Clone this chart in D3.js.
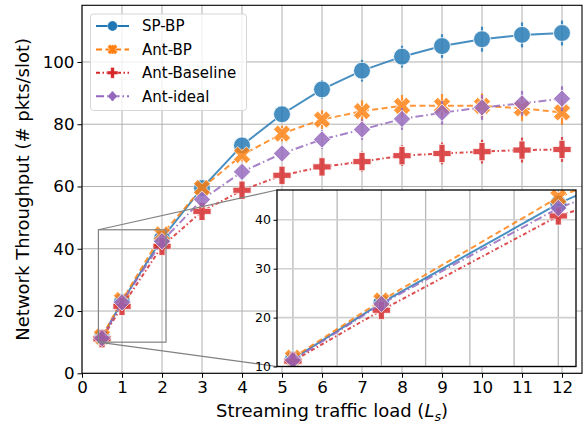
<!DOCTYPE html>
<html lang="en">
<head>
<meta charset="UTF-8">
<title>Throughput vs streaming load</title>
<script src="https://d3js.org/d3.v7.min.js"></script>
<style>
  body { margin: 0; background: #fff; }
  text { font-family: "DejaVu Sans", sans-serif; }
</style>
</head>
<body>
<script>
// data
const loads = [0.5, 1, 2, 3, 4, 5, 6, 7, 8, 9, 10, 11, 12];
const spBP = [11.5, 23, 43.3, 59.5, 73.2, 83.2, 91.2, 97.2, 101.7, 105.1, 107.3, 108.7, 109.3];
const antBP = [11.8, 23.5, 44.6, 59.5, 70.1, 77, 81.5, 84.2, 85.9, 85.9, 85.9, 85.1, 83.8];
const antBase = [11.1, 21.5, 40.8, 52, 58.8, 63.6, 66.3, 68, 69.9, 70.6, 71.2, 71.7, 71.9];
const antIdeal = [11.3, 22.8, 42.4, 55.8, 64.7, 70.6, 75.1, 78.3, 81.7, 83.7, 85.4, 86.7, 88.2];
const spErr = [0.5, 0.8, 1, 1.5, 2, 2.5, 3, 3.5, 3.5, 3.8, 4, 4, 4];
const antBPErr = [0.5, 0.8, 1, 1.5, 2, 2.5, 3, 3.5, 3.5, 3.8, 4, 4, 4];
const antBaseErr = [0.5, 0.8, 1, 1.5, 2, 2.5, 3, 3.2, 3.3, 3.5, 3.8, 4, 4];
const antIdealErr = [0.5, 0.8, 1, 1.5, 2, 2.5, 3, 3.3, 3.5, 3.8, 4, 4, 4];
const seriesNames = ["SP-BP", "Ant-BP", "Ant-Baseline", "Ant-ideal"];
const xTicks = [0, 1, 2, 3, 4, 5, 6, 7, 8, 9, 10, 11, 12];
const yTicks = [0, 20, 40, 60, 80, 100];
const insetXTicks = [0.5, 0.75, 1, 1.25, 1.5, 1.75, 2];
const insetYTicks = [10, 20, 30, 40];

const series = [
  { name: seriesNames[0], vals: spBP, err: spErr, color: "#1f77b4", dash: null, marker: "circle" },
  { name: seriesNames[1], vals: antBP, err: antBPErr, color: "#ff7f0e", dash: "6,3.5", marker: "x" },
  { name: seriesNames[2], vals: antBase, err: antBaseErr, color: "#d62728", dash: "4,2.5,1.5,2.5", marker: "plus" },
  { name: seriesNames[3], vals: antIdeal, err: antIdealErr, color: "#9467bd", dash: "8,3,1.5,3", marker: "diamond" }
];

const width = 585, height = 429;
const svg = d3.select("body").append("svg")
  .attr("width", width).attr("height", height);
svg.append("rect").attr("width", width).attr("height", height).attr("fill", "#fff");

// main axes
const L = 82, R = 582, T = 5.3, B = 373.3;
const x = d3.scaleLinear().domain([0, 12.5]).range([L, R]);
const y = d3.scaleLinear().domain([0, 118.2]).range([B, T]);

// inset axes
const iL = 277, iR = 576, iT = 190, iB = 366.5;
const ix = d3.scaleLinear().domain([0.41, 2.1]).range([iL, iR]);
const iy = d3.scaleLinear().domain([10, 46.1]).range([iB, iT]);

const defs = svg.append("defs");
defs.append("clipPath").attr("id", "clipMain")
  .append("rect").attr("x", L).attr("y", T).attr("width", R - L).attr("height", B - T);
defs.append("clipPath").attr("id", "clipInset")
  .append("rect").attr("x", iL).attr("y", iT).attr("width", iR - iL).attr("height", iB - iT);

function markerPath(kind, size) {
  if (kind === "circle") return d3.symbol(d3.symbolCircle, size)();
  if (kind === "diamond") return d3.symbol(d3.symbolSquare, size)();
  return d3.symbol(d3.symbolCross, size)();
}
function markerRot(kind) {
  return (kind === "x" || kind === "diamond") ? 45 : 0;
}

const msize = { circle: 225, x: 185, plus: 185, diamond: 150 };

function drawPanel(g, sx, sy, clipId) {
  const plot = g.append("g").attr("clip-path", `url(#${clipId})`);
  series.forEach(s => {
    const pts = loads.map((l, i) => ({ x: l, y: s.vals[i], e: s.err[i] }));
    const sg = plot.append("g").attr("opacity", 0.82);
    sg.append("path")
      .datum(pts)
      .attr("d", d3.line().x(d => sx(d.x)).y(d => sy(d.y)))
      .attr("fill", "none")
      .attr("stroke", s.color)
      .attr("stroke-width", 2)
      .attr("stroke-dasharray", s.dash);
    sg.selectAll(".eb").data(pts).enter().append("line")
      .attr("x1", d => sx(d.x)).attr("x2", d => sx(d.x))
      .attr("y1", d => sy(d.y - d.e)).attr("y2", d => sy(d.y + d.e))
      .attr("stroke", s.color).attr("stroke-width", 2.2);
    sg.selectAll(".mk").data(pts).enter().append("path")
      .attr("d", markerPath(s.marker, msize[s.marker]))
      .attr("transform", d => `translate(${sx(d.x)},${sy(d.y)}) rotate(${markerRot(s.marker)})`)
      .attr("fill", s.color)
      .attr("stroke", "#fff")
      .attr("stroke-width", 0.8);
  });
}

// main grid
const main = svg.append("g");
main.append("g").selectAll("line").data(xTicks).enter().append("line")
  .attr("x1", d => x(d)).attr("x2", d => x(d)).attr("y1", T).attr("y2", B)
  .attr("stroke", "#b0b0b0").attr("stroke-width", 1);
main.append("g").selectAll("line").data(yTicks).enter().append("line")
  .attr("x1", L).attr("x2", R).attr("y1", d => y(d)).attr("y2", d => y(d))
  .attr("stroke", "#b0b0b0").attr("stroke-width", 1);

drawPanel(main, x, y, "clipMain");

// axes
const xAxis = main.append("g").attr("transform", `translate(0,${B})`)
  .call(d3.axisBottom(x).tickValues(xTicks).tickSize(4.5).tickPadding(3).tickFormat(d3.format("d")));
const yAxis = main.append("g").attr("transform", `translate(${L},0)`)
  .call(d3.axisLeft(y).tickValues(yTicks).tickSize(4.5).tickPadding(3).tickFormat(d3.format("d")));
[xAxis, yAxis].forEach(a => {
  a.select(".domain").remove();
  a.selectAll("line").attr("stroke", "#000").attr("stroke-width", 1);
  a.selectAll("text").attr("font-size", 16.7).attr("fill", "#000")
    .attr("font-family", "DejaVu Sans, sans-serif");
});
main.append("rect").attr("x", L).attr("y", T).attr("width", R - L).attr("height", B - T)
  .attr("fill", "none").attr("stroke", "#000").attr("stroke-width", 1.1);

// axis labels
const xl = svg.append("text")
  .attr("x", (L + R) / 2).attr("y", 417)
  .attr("text-anchor", "middle").attr("font-size", 18).attr("fill", "#000");
xl.append("tspan").text("Streaming traffic load (");
xl.append("tspan").attr("font-style", "italic").text("L");
xl.append("tspan").attr("font-style", "italic").attr("font-size", 12.6).attr("dy", 3.5).text("s");
xl.append("tspan").attr("dy", -3.5).text(")");

svg.append("text")
  .attr("transform", `translate(29,${(T + B) / 2}) rotate(-90)`)
  .attr("text-anchor", "middle").attr("font-size", 18).attr("fill", "#000")
  .text("Network Throughput (# pkts/slot)");

// zoom indicator on main chart
const zx0 = x(0.41), zx1 = x(2.1), zy0 = y(46.1), zy1 = y(10);
svg.append("rect").attr("x", zx0).attr("y", zy0).attr("width", zx1 - zx0).attr("height", zy1 - zy0)
  .attr("fill", "none").attr("stroke", "#808080").attr("stroke-width", 1.2);
svg.append("line").attr("x1", zx0).attr("y1", zy0).attr("x2", iL).attr("y2", iT)
  .attr("stroke", "#808080").attr("stroke-width", 1.2);
svg.append("line").attr("x1", zx0).attr("y1", zy1).attr("x2", iL).attr("y2", iB)
  .attr("stroke", "#808080").attr("stroke-width", 1.2);

// legend
const lg = svg.append("g");
lg.append("rect").attr("x", 90.5).attr("y", 14).attr("width", 156).attr("height", 96.5)
  .attr("rx", 3).attr("fill", "#fff").attr("fill-opacity", 0.8)
  .attr("stroke", "#d6d6d6").attr("stroke-width", 1);
series.forEach((s, i) => {
  const cy = 26 + i * 23.4;
  const row = lg.append("g");
  row.append("line").attr("x1", 96).attr("x2", 129).attr("y1", cy).attr("y2", cy)
    .attr("stroke", s.color).attr("stroke-width", 2).attr("stroke-dasharray", s.dash);
  row.append("path").attr("d", markerPath(s.marker, msize[s.marker] * 0.35))
    .attr("transform", `translate(112.5,${cy}) rotate(${markerRot(s.marker)})`)
    .attr("fill", s.color).attr("stroke", "#fff").attr("stroke-width", 0.4);
  row.append("line").attr("x1", 112.5).attr("x2", 112.5).attr("y1", cy - 4.5).attr("y2", cy + 4.5)
    .attr("stroke", s.color).attr("stroke-width", 2);
  row.append("text").attr("x", 142).attr("y", cy + 5.3).attr("font-size", 15).attr("fill", "#000")
    .text(s.name);
});

// inset
const inset = svg.append("g");
inset.append("rect").attr("x", iL).attr("y", iT).attr("width", iR - iL).attr("height", iB - iT)
  .attr("fill", "#fff");
inset.append("g").selectAll("line").data(insetXTicks).enter().append("line")
  .attr("x1", d => ix(d)).attr("x2", d => ix(d)).attr("y1", iT).attr("y2", iB)
  .attr("stroke", "#b8b8b8").attr("stroke-width", 1.3);
inset.append("g").selectAll("line").data(insetYTicks).enter().append("line")
  .attr("x1", iL).attr("x2", iR).attr("y1", d => iy(d)).attr("y2", d => iy(d))
  .attr("stroke", "#d0d0d0").attr("stroke-width", 1.6);
drawPanel(inset, ix, iy, "clipInset");
const iyAxis = inset.append("g").attr("transform", `translate(${iL},0)`)
  .call(d3.axisLeft(iy).tickValues(insetYTicks).tickSize(3.5).tickPadding(2.5).tickFormat(d3.format("d")));
iyAxis.select(".domain").remove();
iyAxis.selectAll("line").attr("stroke", "#000");
iyAxis.selectAll("text").attr("font-size", 12.5).attr("fill", "#000")
  .attr("font-family", "DejaVu Sans, sans-serif");
inset.append("rect").attr("x", iL).attr("y", iT).attr("width", iR - iL).attr("height", iB - iT)
  .attr("fill", "none").attr("stroke", "#000").attr("stroke-width", 1.3);
</script>
</body>
</html>
